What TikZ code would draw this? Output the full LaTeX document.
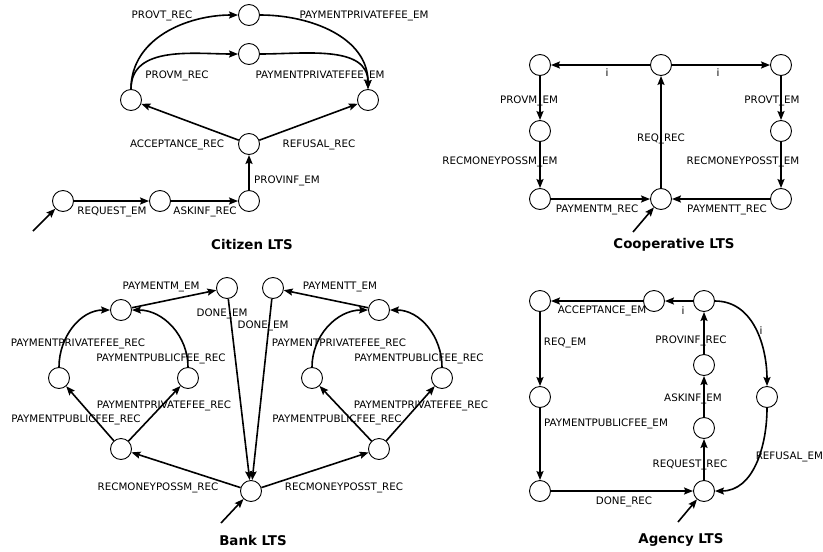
\documentclass[tikz,border=0pt]{standalone}
\usepackage{fontspec}
\setmainfont{DejaVu Sans}
\usetikzlibrary{arrows.meta}
\begin{document}
\begin{tikzpicture}[x=1pt, y=-1pt,
  state/.style={circle, draw, line width=0.9pt, minimum size=21pt, inner sep=0pt},
  tr/.style={-{Stealth[length=9pt,width=7pt,inset=1.5pt]}, line width=1.6pt},
  lbl/.style={font=\fontsize{10.3}{12}\selectfont, inner sep=0pt},
  title/.style={font=\fontsize{13.4}{16}\selectfont\bfseries}]
  \useasboundingbox (0,0) rectangle (823,552);

  % Citizen LTS
  \node [state] (c0) at (63,201) {};
  \node [state] (c1) at (160,201) {};
  \node [state] (c2) at (249,201) {};
  \node [state] (c3) at (249,144) {};
  \node [state] (c4) at (131,100) {};
  \node [state] (c5) at (368,100) {};
  \node [state] (c6) at (249,15) {};
  \node [state] (c7) at (249,54) {};
  \coordinate (c0in) at (33,231);
  \node [title] (ctitle) at (252,245) {Citizen LTS};

  \draw[tr] (c0in) -- (c0);
  \draw[tr] (c0) -- (c1) node[lbl] at (112,212) {REQUEST\_EM};
  \draw[tr] (c1) -- (c2) node[lbl] at (205,212) {ASKINF\_REC};
  \draw[tr] (c2) -- (c3) node[lbl] at (287,181) {PROVINF\_EM};
  \draw[tr] (c3) -- (c4) node[lbl] at (177,145) {ACCEPTANCE\_REC};
  \draw[tr] (c3) -- (c5) node[lbl] at (319,145) {REFUSAL\_REC};
  \draw[tr] (c4) to[out=90,in=180] (c6) node[lbl] at (162,16) {PROVT\_REC};
  \draw[tr] (c4) to[out=90,in=180] (c7) node[lbl] at (177,76) {PROVM\_REC};
  \draw[tr] (c6) to[out=0,in=90] (c5) node[lbl] at (364,16) {PAYMENTPRIVATEFEE\_EM};
  \draw[tr] (c7) to[out=0,in=90] (c5) node[lbl] at (320,76) {PAYMENTPRIVATEFEE\_EM};

  % Cooperative LTS
  \node [state] (k1) at (540,65) {};
  \node [state] (k2) at (661,65) {};
  \node [state] (k3) at (781,65) {};
  \node [state] (k4) at (540,131) {};
  \node [state] (k5) at (781,131) {};
  \node [state] (k6) at (540,199) {};
  \node [state] (k7) at (661,199) {};
  \node [state] (k8) at (781,199) {};
  \coordinate (k7in) at (633,232);
  \node [title] (ktitle) at (674,245) {Cooperative LTS};

  \draw[tr] (k7in) -- (k7);
  \draw[tr] (k7) -- (k2) node[lbl] at (661,139) {REQ\_REC};
  \draw[tr] (k2) -- (k1) node[lbl] at (607,73) {i};
  \draw[tr] (k2) -- (k3) node[lbl] at (718,73) {i};
  \draw[tr] (k1) -- (k4) node[lbl] at (529,101) {PROVM\_EM};
  \draw[tr] (k3) -- (k5) node[lbl] at (772,101) {PROVT\_EM};
  \draw[tr] (k4) -- (k6) node[lbl] at (500,162) {RECMONEYPOSSM\_EM};
  \draw[tr] (k5) -- (k8) node[lbl] at (743,162) {RECMONEYPOSST\_EM};
  \draw[tr] (k6) -- (k7) node[lbl] at (597,210) {PAYMENTM\_REC};
  \draw[tr] (k8) -- (k7) node[lbl] at (727,210) {PAYMENTT\_REC};

  % Bank LTS
  \node [state] (b0) at (251,491) {};
  \node [state] (bm) at (227,288) {};
  \node [state] (bt) at (273,288) {};
  \node [state] (bl1) at (121,310) {};
  \node [state] (bl2) at (59,378) {};
  \node [state] (bl3) at (188,378) {};
  \node [state] (bl4) at (121,449) {};
  \node [state] (br1) at (379,310) {};
  \node [state] (br2) at (312,378) {};
  \node [state] (br3) at (442,378) {};
  \node [state] (br4) at (379,449) {};
  \coordinate (b0in) at (221,523);
  \node [title] (btitle) at (253,540) {Bank LTS};

  \draw[tr] (b0in) -- (b0);
  \draw[tr] (b0) -- (bl4) node[lbl] at (158,488) {RECMONEYPOSSM\_REC};
  \draw[tr] (b0) -- (br4) node[lbl] at (344,488) {RECMONEYPOSST\_REC};
  \draw[tr] (bl4) -- (bl2) node[lbl] at (76,420) {PAYMENTPUBLICFEE\_REC};
  \draw[tr] (bl4) -- (bl3) node[lbl] at (164,406) {PAYMENTPRIVATEFEE\_REC};
  \draw[tr] (bl2) to[out=90,in=180] (bl1) node[lbl] at (78,344) {PAYMENTPRIVATEFEE\_REC};
  \draw[tr] (bl3) to[out=90,in=0] (bl1) node[lbl] at (161,359) {PAYMENTPUBLICFEE\_REC};
  \draw[tr] (bl1) -- (bm) node[lbl] at (161,287) {PAYMENTM\_EM};
  \draw[tr] (bm) -- (b0) node[lbl] at (222,314) {DONE\_EM};
  \draw[tr] (bt) -- (b0) node[lbl] at (263,326) {DONE\_EM};
  \draw[tr] (br1) -- (bt) node[lbl] at (340,287) {PAYMENTT\_EM};
  \draw[tr] (br2) to[out=90,in=180] (br1) node[lbl] at (339,344) {PAYMENTPRIVATEFEE\_REC};
  \draw[tr] (br3) to[out=90,in=0] (br1) node[lbl] at (419,359) {PAYMENTPUBLICFEE\_REC};
  \draw[tr] (br4) -- (br2) node[lbl] at (337,420) {PAYMENTPUBLICFEE\_REC};
  \draw[tr] (br4) -- (br3) node[lbl] at (421,406) {PAYMENTPRIVATEFEE\_REC};

  % Agency LTS
  \node [state] (a1) at (540,301) {};
  \node [state] (a2) at (654,301) {};
  \node [state] (a3) at (704,301) {};
  \node [state] (a4) at (704,365) {};
  \node [state] (a5) at (704,428) {};
  \node [state] (a6) at (704,491) {};
  \node [state] (a7) at (540,397) {};
  \node [state] (a8) at (540,491) {};
  \node [state] (a9) at (767,397) {};
  \coordinate (a6in) at (678,522);
  \node [title] (atitle) at (681,540) {Agency LTS};

  \draw[tr] (a6in) -- (a6);
  \draw[tr] (a2) -- (a1) node[lbl] at (602,311) {ACCEPTANCE\_EM};
  \draw[tr] (a3) -- (a2) node[lbl] at (683,311) {i};
  \draw[tr] (a1) -- (a7) node[lbl] at (565,343) {REQ\_EM};
  \draw[tr] (a7) -- (a8) node[lbl] at (606,424) {PAYMENTPUBLICFEE\_EM};
  \draw[tr] (a8) -- (a6) node[lbl] at (624,502) {DONE\_REC};
  \draw[tr] (a6) -- (a5) node[lbl] at (690,465) {REQUEST\_REC};
  \draw[tr] (a5) -- (a4) node[lbl] at (693,399) {ASKINF\_EM};
  \draw[tr] (a4) -- (a3) node[lbl] at (691,341) {PROVINF\_REC};
  \draw[tr] (a3) to[out=0,in=90] (a9) node[lbl] at (761,331) {i};
  \draw[tr] (a9) to[out=-90,in=0] (a6) node[lbl, anchor=west] at (755,457) {REFUSAL\_EM};
\end{tikzpicture}
\end{document}
